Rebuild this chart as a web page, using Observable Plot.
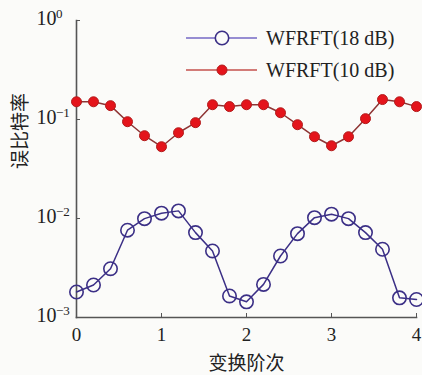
<!DOCTYPE html>
<html>
<head>
<meta charset="utf-8">
<script src="https://cdn.jsdelivr.net/npm/d3@7"></script>
<script src="https://cdn.jsdelivr.net/npm/@observablehq/plot@0.6"></script>
<style>
  html, body { margin: 0; padding: 0; background: #fbfbf9; }
  #chart svg { display: block; }
</style>
</head>
<body>
<div id="chart"></div>
<script>
// Transform order (变换阶次)
const orders = [0, 0.2, 0.4, 0.6, 0.8, 1.0, 1.2, 1.4, 1.6, 1.8, 2.0, 2.2, 2.4, 2.6, 2.8, 3.0, 3.2, 3.4, 3.6, 3.8, 4.0];
// BER, WFRFT(18 dB)
const ber18 = [0.00181, 0.00213, 0.00311, 0.00762, 0.00997, 0.01132, 0.01194, 0.0072, 0.0047, 0.00165, 0.00144,
               0.00216, 0.00418, 0.00703, 0.0102, 0.01106, 0.00997, 0.0072, 0.00489, 0.00158, 0.00152];
// BER, WFRFT(10 dB)
const ber10 = [0.151, 0.151, 0.138, 0.095, 0.0686, 0.0531, 0.0735, 0.0929, 0.141, 0.135, 0.141,
               0.141, 0.117, 0.0886, 0.067, 0.0543, 0.067, 0.102, 0.159, 0.151, 0.135];
const seriesNames = ["WFRFT(18 dB)", "WFRFT(10 dB)"];
const xTicks = [0, 1, 2, 3, 4];
const yTicks = [1, 0.1, 0.01, 0.001];
const yExps = ["0", "\u22121", "\u22122", "\u22123"];

const d18 = orders.map((x, i) => ({x, y: ber18[i]}));
const d10 = orders.map((x, i) => ({x, y: ber10[i]}));

const serif = "Liberation Serif, Times New Roman, DejaVu Serif, serif";
const cjk = "Noto Sans CJK SC, sans-serif";
const axisColor = "#555";

const chart = Plot.plot({
  width: 422,
  height: 375,
  marginLeft: 76,
  marginRight: 6,
  marginTop: 20,
  marginBottom: 58,
  style: {background: "#fbfbf9", fontFamily: serif, fontSize: "19px", color: "#222"},
  x: {domain: [0, 4]},
  y: {type: "log", domain: [1e-3, 1]},
  marks: [
    Plot.frame({anchor: "left", stroke: axisColor, strokeWidth: 1.6}),
    Plot.frame({anchor: "bottom", stroke: axisColor, strokeWidth: 1.6}),
    Plot.axisX({ticks: xTicks, tickSize: -4, text: null, label: null, stroke: axisColor}),
    Plot.axisX({ticks: xTicks, tickSize: 0, tickPadding: 10, tickFormat: d => String(d),
                fontSize: 19, fontFamily: serif, fill: "#222", label: null}),
    Plot.axisY({ticks: yTicks, tickSize: -4, text: null, label: null, stroke: axisColor}),
    Plot.axisY({ticks: yTicks, tickSize: 0, tickPadding: 20, dy: -1.5, tickFormat: () => "10",
                fontSize: 20, fontFamily: serif, fill: "#222", label: null}),
    Plot.text(yTicks, {y: d => d, text: (d, i) => yExps[i], frameAnchor: "left", textAnchor: "start",
                       dx: -20.5, dy: -7, fontSize: 13, fontFamily: serif, fill: "#222"}),
    Plot.text(["变换阶次"], {frameAnchor: "bottom", dy: 52, text: d => d, fontFamily: cjk, fontSize: 19, fill: "#222"}),
    Plot.text(["误比特率"], {frameAnchor: "left", dx: -56, rotate: -90, text: d => d, fontFamily: cjk, fontSize: 19, fill: "#222"}),
    Plot.line(d10, {x: "x", y: "y", stroke: "#8e3434", strokeWidth: 1.5}),
    Plot.dot(d10, {x: "x", y: "y", r: 5, fill: "#e4141b", stroke: "#b31c1c", strokeWidth: 1}),
    Plot.line(d18, {x: "x", y: "y", stroke: "#3b2f86", strokeWidth: 1.5}),
    Plot.dot(d18, {x: "x", y: "y", r: 6.7, fill: "none", stroke: "#3b2f86", strokeWidth: 1.6})
  ]
});
document.getElementById("chart").appendChild(chart);

// Legend inside the SVG
const svg = d3.select(chart);
const legend = svg.append("g").attr("font-family", serif).attr("font-size", 20)
  .attr("fill", "#222").attr("text-anchor", "start");
const legendItems = [
  {name: seriesNames[0], line: "#7468c4", type: "open", y: 38},
  {name: seriesNames[1], line: "#c4504c", type: "filled", y: 70}
];
legendItems.forEach(it => {
  const g = legend.append("g").attr("transform", `translate(0,${it.y})`);
  g.append("line").attr("x1", 186).attr("x2", 257).attr("y1", 0).attr("y2", 0)
    .attr("stroke", it.line).attr("stroke-width", 1.5);
  if (it.type === "open") {
    g.append("circle").attr("cx", 222).attr("cy", 0).attr("r", 6.7)
      .attr("fill", "#fbfbf9").attr("stroke", "#3b2f86").attr("stroke-width", 1.6);
  } else {
    g.append("circle").attr("cx", 222).attr("cy", 0).attr("r", 5)
      .attr("fill", "#e4141b").attr("stroke", "#b31c1c").attr("stroke-width", 1);
  }
  g.append("text").attr("x", 266).attr("y", 0).attr("dy", "0.35em")
    .attr("text-anchor", "start").attr("font-family", serif).text(it.name);
});
</script>
</body>
</html>
